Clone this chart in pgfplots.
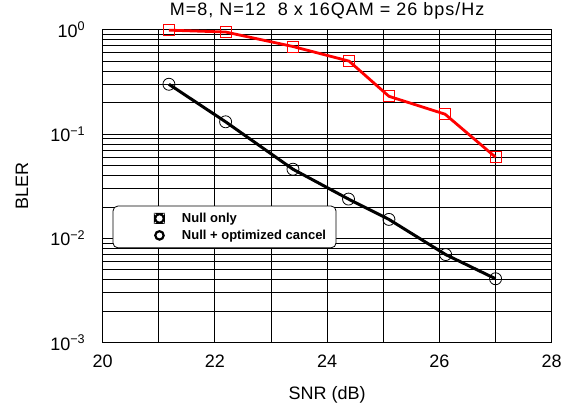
\documentclass[border=0pt]{standalone}
\usepackage{fontspec}
\setmainfont{Liberation Sans}
\usepackage{pgfplots}
\pgfplotsset{compat=1.18}
\pgfplotstableread{
x y
21.18 0.99
22.19 0.95
23.39 0.69
24.39 0.50
25.10 0.23
26.10 0.155
27.00 0.060
}\nullonly
\pgfplotstableread{
x y
21.18 0.30
22.19 0.131
23.39 0.046
24.38 0.0238
25.10 0.0152
26.11 0.0070
27.00 0.0041
}\nullopt
\begin{document}
\begin{tikzpicture}
\useasboundingbox (-102.7pt,-67.3pt) rectangle (463.3pt,342.7pt);
\begin{axis}[
  scale only axis, width=449pt, height=313pt,
  ymode=log, xmin=20, xmax=28, ymin=1e-3, ymax=1,
  xtick={20,22,24,26,28}, xticklabels={20,22,24,26,28},
  minor xtick={21,23,25,27},
  ytick={1e-3,1e-2,1e-1,1},
  yticklabels={10\textsuperscript{−3},10\textsuperscript{−2},10\textsuperscript{−1},10\textsuperscript{0}},
  minor ytick={2e-3,3e-3,4e-3,5e-3,6e-3,7e-3,8e-3,9e-3,2e-2,3e-2,4e-2,5e-2,6e-2,7e-2,8e-2,9e-2,0.2,0.3,0.4,0.5,0.6,0.7,0.8,0.9},
  grid=both,
  major grid style={black,line width=0.9pt},
  minor grid style={black,line width=0.9pt},
  axis line style={black,line width=0.9pt},
  major tick length=0pt, minor tick length=0pt,
  ticklabel style={font=\fontsize{18}{20}\selectfont},
  xticklabel style={yshift=-9pt},
  yticklabel style={xshift=-14pt},
  xlabel={SNR (dB)}, ylabel={BLER},
  label style={font=\fontsize{18}{20}\selectfont},
  xlabel style={at={(axis description cs:0.5,-0.166)}, anchor=center},
  ylabel style={at={(axis description cs:-0.180,0.5)}, anchor=center, rotate=0},
  title={M=8, N=12\ \ 8 x 16QAM = 26 bps/Hz},
  title style={at={(axis description cs:0.5,1)}, anchor=base, yshift=8.5pt, font=\fontsize{18}{20}\selectfont\addfontfeature{LetterSpace=5.5}},
  clip=false,
  legend style={at={(axis description cs:0.022,0.438)}, anchor=north west,
    rounded corners=5pt, draw=black, line width=0.8pt, fill=white,
    font=\fontsize{13}{15}\selectfont\bfseries, row sep=2pt, inner xsep=8pt, inner ysep=5pt},
  legend cell align=left,
]
\addplot[red, line width=2.8pt, mark=square, mark size=5.5pt,
  mark options={line width=0.8pt, fill=none, solid},
  legend image code/.code={\path (0pt,0pt) (56pt,0pt); \draw[black,line width=2pt] (32.5pt,-4.5pt) rectangle (41.5pt,4.5pt);}]
  table[x=x,y=y] {\nullonly};
\addlegendentry{Null only}
\addplot[black, line width=3pt, mark=o, mark size=6pt,
  mark options={line width=0.8pt, fill=none, solid},
  legend image code/.code={\path (0pt,0pt) (56pt,0pt); \draw[black,line width=2.2pt] (37pt,0pt) circle (4.2pt);}]
  table[x=x,y=y] {\nullopt};
\addlegendentry{Null + optimized cancel}
\end{axis}
\end{tikzpicture}
\end{document}
